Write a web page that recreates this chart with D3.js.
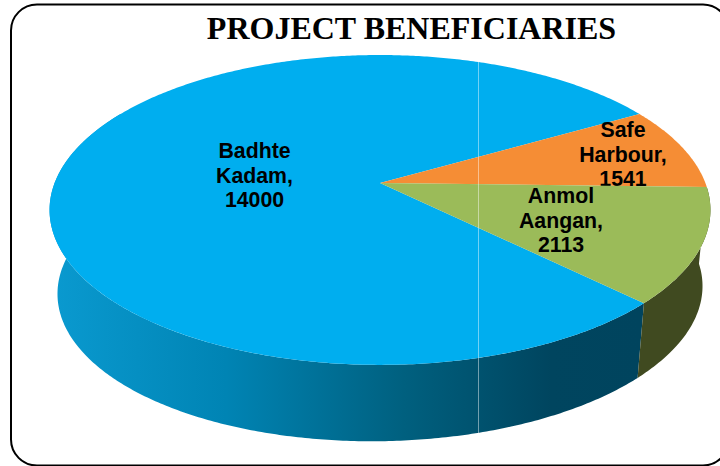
<!DOCTYPE html>
<html>
<head>
<meta charset="utf-8">
<script src="https://cdnjs.cloudflare.com/ajax/libs/d3/7.8.5/d3.min.js"></script>
<style>
html, body { margin: 0; padding: 0; background: #fff; }
svg { display: block; }
</style>
</head>
<body>
<div id="chart"></div>
<script>
const projects = ["Badhte Kadam", "Safe Harbour", "Anmol Aangan"];
const beneficiaries = [14000, 1541, 2113];
const sliceColors = ["#00aeef", "#f58d35", "#9bbb59"];
const labelLines = [["Badhte", "Kadam,", "14000"], ["Safe", "Harbour,", "1541"], ["Anmol", "Aangan,", "2113"]];
const labelPos = [[254.5, 158], [623, 137], [561, 203]];

const width = 720, height = 466;
const svg = d3.select("#chart").append("svg").attr("width", width).attr("height", height);

// projective tilt of the pie disc: v=0 at apex, v=-1 back edge, v=1 front edge
const cx = 380, apexY = 183, k = 325.4, persp = -0.174, ya = 118.4;
// the rim hangs down towards a far vanishing point
const vpY = 3545, rimScale = 0.976, rimSkew = 0.012;

function topEdge(a) {
    let u = Math.sin(a), v = -Math.cos(a);
    let w = persp * v + 1;
    return [cx + k * u / w, (ya * v + apexY) / w];
}
function bottomEdge(a) {
    let p = topEdge(a);
    let x = cx + (p[0] - cx) * rimScale;
    return [x, vpY - (vpY - p[1]) * rimScale - (x - cx) * rimSkew];
}
function arcPoints(f, a0, a1) {
    let n = Math.max(2, Math.ceil(Math.abs(a1 - a0) / 0.01));
    return d3.range(n + 1).map(i => f(a0 + (a1 - a0) * i / n));
}
const line = d3.line();

const startDeg = 134.6;
const pie = d3.pie().sort(null).value(d => d)
    .startAngle(startDeg * Math.PI / 180)
    .endAngle((startDeg + 360) * Math.PI / 180);
const slices = pie(beneficiaries);

const defs = svg.append("defs");
const rimGrad = defs.append("linearGradient").attr("id", "rimBlue")
    .attr("gradientUnits", "userSpaceOnUse")
    .attr("x1", 49).attr("x2", 640).attr("y1", 0).attr("y2", 0);
[[0, "#0a9ad0"], [0.3, "#0084b4"], [0.6, "#00607f"], [0.85, "#00455f"], [1, "#00445e"]].forEach(s => {
    rimGrad.append("stop").attr("offset", s[0]).attr("stop-color", s[1]);
});

// frame
svg.append("rect").attr("x", 11).attr("y", 4.5).attr("width", 718).attr("height", 461)
    .attr("rx", 26).attr("fill", "#fff").attr("stroke", "#000").attr("stroke-width", 2);

svg.append("text").attr("x", 411.5).attr("y", 39)
    .attr("text-anchor", "middle")
    .style("font-family", "'Liberation Serif', serif")
    .style("font-weight", "bold").style("font-size", "32px").style("fill", "#000")
    .text("PROJECT BENEFICIARIES");

// rim: drawn past the left extreme, the top disc covers whatever is hidden
function rimPath(a0, a1) {
    let lo = a0 % (2 * Math.PI), hi = lo + (a1 - a0);
    hi = Math.min(hi, 300 * Math.PI / 180);
    return line(arcPoints(topEdge, lo, hi).concat(arcPoints(bottomEdge, hi, lo))) + "Z";
}
const rimFill = ["url(#rimBlue)", null, "#404a20"];
slices.forEach((s, i) => {
    if (rimFill[i]) svg.append("path").attr("d", rimPath(s.startAngle, s.endAngle)).attr("fill", rimFill[i]);
});

function sliceLabel(i) {
    let t = svg.append("text")
        .attr("text-anchor", "middle")
        .style("font-family", "'Liberation Sans', sans-serif")
        .style("font-weight", "bold").style("font-size", "21.3px").style("fill", "#000");
    labelLines[i].forEach((l, j) => {
        t.append("tspan").attr("x", labelPos[i][0]).attr("y", labelPos[i][1] + j * 24.7).text(l);
    });
}

// draw order: Safe Harbour's label sits under the green slice, as in the picture
slices.forEach((s, i) => {
    let pts = [[cx, apexY]].concat(arcPoints(topEdge, s.startAngle, s.endAngle));
    svg.append("path").attr("d", line(pts) + "Z").attr("fill", sliceColors[i]);
    sliceLabel(i);
});

// stray light hairline over the pie
svg.append("line").attr("x1", 478.5).attr("x2", 478.5).attr("y1", 62).attr("y2", 435)
    .attr("stroke", "#fff").attr("stroke-opacity", 0.45).attr("stroke-width", 1);
</script>
</body>
</html>
